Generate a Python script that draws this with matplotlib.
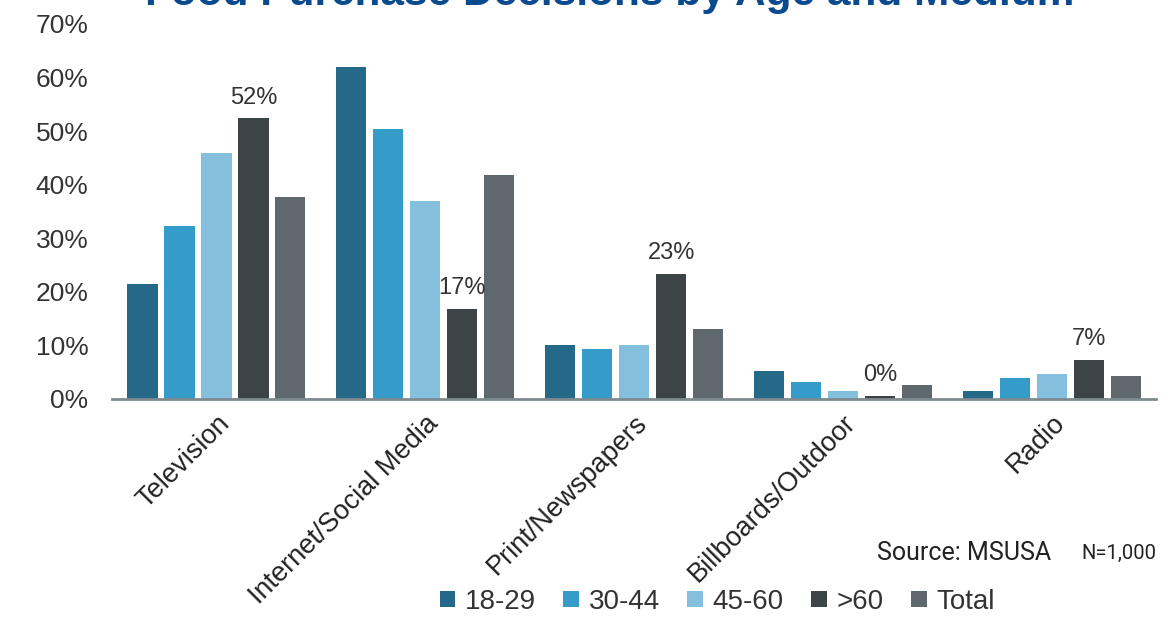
import numpy as np
import matplotlib.pyplot as plt

# food purchase decisions by age and medium
categories = ["Television", "Internet/Social Media", "Print/Newspapers",
              "Billboards/Outdoor", "Radio"]
groups = ["18-29", "30-44", "45-60", ">60", "Total"]
v_18_29 = [21.5, 62.0, 10.1, 5.2, 1.5]
v_30_44 = [32.3, 50.4, 9.3, 3.2, 3.9]
v_45_60 = [46.0, 37.0, 10.1, 1.5, 4.7]
v_60 = [52.4, 16.8, 23.3, 0.6, 7.3]
v_total = [37.7, 41.8, 13.0, 2.6, 4.3]
labels_60 = ["52%", "17%", "23%", "0%", "7%"]

series = [v_18_29, v_30_44, v_45_60, v_60, v_total]
colors = ["#256888", "#359BC8", "#84C0DE", "#3C4448", "#5E686D"]

plt.rcParams['font.family'] = ['Liberation Sans', 'DejaVu Sans']

fig = plt.figure(figsize=(11.68, 6.18), dpi=100)
ax = fig.add_axes([0.0959, 0.3544, 0.894, 0.6068])

x = np.arange(len(categories))
step = 0.177
w = 0.145
for i, (vals, c) in enumerate(zip(series, colors)):
    ax.bar(x + (i - 2) * step, vals, width=w, color=c, label=groups[i])

for xi, v, lab in zip(x, v_60, labels_60):
    ax.annotate(lab, (xi + step, v), xytext=(0, 7), textcoords='offset points',
                ha='center', va='bottom', fontsize=17, color='#333333')

ax.set_xlim(-0.5, 4.5)
ax.set_ylim(0, 70)
ax.set_yticks(range(0, 71, 10))
ax.set_yticklabels([f"{t}%" for t in range(0, 71, 10)], fontsize=19, color='#333333')
ax.set_xticks(x)
ax.set_xticklabels(categories, rotation=45, ha='right', rotation_mode='anchor',
                   fontsize=19.5, color='#222222')
ax.tick_params(axis='y', length=0, pad=17)
ax.tick_params(axis='x', length=0, pad=8)
for s in ['top', 'right', 'left']:
    ax.spines[s].set_visible(False)
ax.spines['bottom'].set_color('#7F8A8F')
ax.spines['bottom'].set_linewidth(2)

fig.text(0.522, 1 - 5 / 618, "Food Purchase Decisions by Age and Medium",
         ha='center', va='baseline', fontsize=30.5, fontweight='bold', color='#0B4A8F')

fig.text(0.751, 0.105, "Source: MSUSA", fontsize=18, family=['Roboto', 'DejaVu Sans'],
         color='#222222', va='center')
fig.text(0.926, 0.105, "N=1,000", fontsize=14.5, family=['Roboto', 'DejaVu Sans'],
         color='#222222', va='center')

fig.legend(loc='center', bbox_to_anchor=(0.614, 0.026), ncol=5, frameon=False,
           fontsize=20, handlelength=0.55, handleheight=0.55, handletextpad=0.35,
           columnspacing=1.0, labelcolor='#333333')

fig.savefig("out.png", dpi=100)
